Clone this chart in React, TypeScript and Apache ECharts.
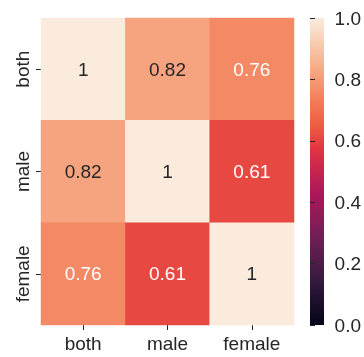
import React, { useEffect, useRef } from "react";
import * as echarts from "echarts";

const categories = ["both", "male", "female"];
const matrix = [
  [1, 0.82, 0.76],
  [0.82, 1, 0.61],
  [0.76, 0.61, 1],
];
const colorbarTicks = [0, 0.2, 0.4, 0.6, 0.8, 1.0];
const rocket = [
  "#03051a", "#1c0f2c", "#35193e", "#531c4b", "#701f57", "#8f1b58", "#ad1759", "#c7254e",
  "#e13342", "#ee5a42", "#f37651", "#f59570", "#f6b48f", "#f8d0b6", "#faebdd",
];

const FONT = "'Liberation Sans', Arial, Helvetica, sans-serif";
const TEXT = "#262626";

export default function App() {
  const ref = useRef<HTMLDivElement>(null);
  useEffect(() => {
    if (!ref.current) return;
    const chart = echarts.init(ref.current, null, { renderer: "svg" });
    const data: any[] = [];
    matrix.forEach((row, r) =>
      row.forEach((v, c) => {
        data.push({
          value: [c, r, v],
          label: { color: v >= 0.8 ? TEXT : "#ffffff" },
        });
      })
    );
    const gx = 41, gy = 18, gw = 253, gh = 307;
    const cbx = 310, cbw = 14;
    chart.setOption({
      animation: false,
      textStyle: { fontFamily: FONT },
      grid: [
        { left: gx, top: gy, width: gw, height: gh },
        { left: cbx, top: gy, width: cbw, height: gh },
      ],
      xAxis: [
        {
          type: "category",
          data: categories,
          gridIndex: 0,
          position: "bottom",
          axisLine: { show: false },
          axisTick: { show: true, alignWithLabel: true, length: 5, lineStyle: { color: TEXT, width: 1 } },
          axisLabel: { color: TEXT, fontSize: 19, margin: 9, fontFamily: FONT },
          splitLine: { show: false },
        },
        { type: "value", gridIndex: 1, show: false, min: 0, max: 1 },
      ],
      yAxis: [
        {
          type: "category",
          data: categories,
          gridIndex: 0,
          inverse: true,
          axisLine: { show: false },
          axisTick: { show: true, alignWithLabel: true, length: 5, lineStyle: { color: TEXT, width: 1 } },
          axisLabel: { color: TEXT, fontSize: 19, margin: 9, rotate: 90, fontFamily: FONT },
          splitLine: { show: false },
        },
        {
          type: "value",
          gridIndex: 1,
          min: 0,
          max: 1,
          interval: 0.2,
          position: "right",
          axisLine: { show: false },
          axisTick: { show: true, length: 5, lineStyle: { color: TEXT, width: 1 } },
          axisLabel: {
            color: TEXT,
            fontSize: 19,
            margin: 11,
            fontFamily: FONT,
            formatter: (v: number) => (colorbarTicks.includes(Math.round(v * 10) / 10) ? v.toFixed(1) : ""),
          },
          splitLine: { show: false },
        },
      ],
      visualMap: {
        show: false,
        min: 0,
        max: 1,
        seriesIndex: 0,
        inRange: { color: rocket },
      },
      graphic: [
        {
          type: "rect",
          z: -1,
          shape: { x: cbx, y: gy, width: cbw, height: gh },
          style: {
            fill: new echarts.graphic.LinearGradient(
              0,
              1,
              0,
              0,
              rocket.map((c, i) => ({ offset: i / (rocket.length - 1), color: c }))
            ),
          },
        },
      ],
      series: [
        {
          type: "heatmap",
          xAxisIndex: 0,
          yAxisIndex: 0,
          data,
          label: {
            show: true,
            fontSize: 19,
            fontFamily: FONT,
            formatter: (p: any) => String(p.value[2]),
          },
          itemStyle: { borderWidth: 0 },
          emphasis: { disabled: true },
        },
      ],
    });
    return () => chart.dispose();
  }, []);
  return <div ref={ref} style={{ position: "fixed", left: 0, top: 0, width: 364, height: 357 }} />;
}
